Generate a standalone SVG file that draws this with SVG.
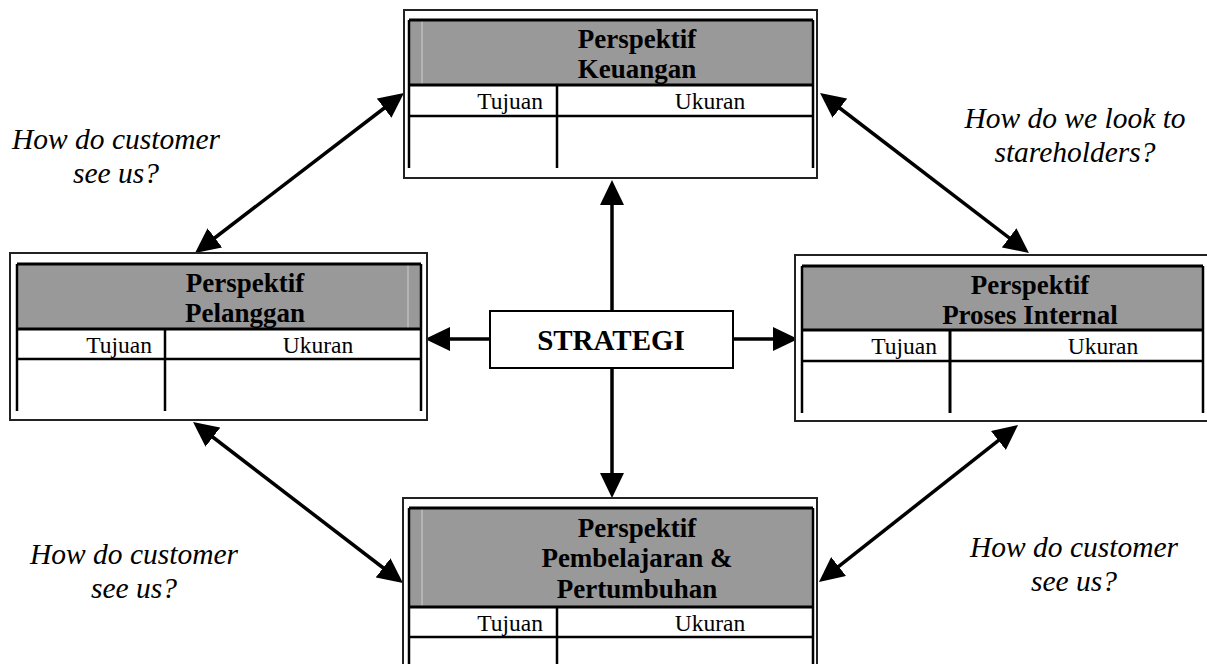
<svg xmlns="http://www.w3.org/2000/svg" width="1207" height="664" viewBox="0 0 1207 664">
<defs>
<style>
.outer{fill:#fff;stroke:#222;stroke-width:2}
.hdr{fill:#999;stroke:none}
.tl{stroke:#000;stroke-width:2.5;fill:none}
.thk{stroke:#000;stroke-width:3;fill:none}
.faint{stroke:#cfcfcf;stroke-width:1}
.h{font-family:"Liberation Serif","Times New Roman",serif;font-weight:bold;font-size:27px;text-anchor:middle;fill:#000}
.c{font-family:"Liberation Serif","Times New Roman",serif;font-size:23.5px;fill:#000}
.lab{font-family:"Liberation Serif","Times New Roman",serif;font-style:italic;font-size:29.5px;text-anchor:middle;fill:#000}
.st{font-family:"Liberation Serif","Times New Roman",serif;font-weight:bold;font-size:29px;text-anchor:middle;fill:#000}
.arr{stroke:#000;stroke-width:3.5;fill:none}
</style>
<marker id="ah" markerUnits="userSpaceOnUse" markerWidth="25" markerHeight="24" refX="20" refY="12" orient="auto-start-reverse" viewBox="0 0 25 24">
<path d="M0,0 L25,12 L0,24 Z" fill="#000"/>
</marker>
</defs>
<rect width="1207" height="664" fill="#fff"/>

<g id="connectors">
<line class="arr" x1="199" y1="250" x2="400" y2="96" marker-start="url(#ah)" marker-end="url(#ah)"/>
<line class="arr" x1="824" y1="96" x2="1025" y2="250" marker-start="url(#ah)" marker-end="url(#ah)"/>
<line class="arr" x1="197" y1="425" x2="399" y2="580" marker-start="url(#ah)" marker-end="url(#ah)"/>
<line class="arr" x1="1014.1" y1="428.1" x2="822.9" y2="578.9" marker-start="url(#ah)" marker-end="url(#ah)"/>
<line class="arr" x1="612" y1="311" x2="612" y2="185" marker-end="url(#ah)"/>
<line class="arr" x1="612" y1="368" x2="612" y2="493" marker-end="url(#ah)"/>
<line class="arr" x1="490" y1="339" x2="430" y2="339" marker-end="url(#ah)"/>
<line class="arr" x1="733" y1="339" x2="793" y2="339" marker-end="url(#ah)"/>
</g>

<g id="keuangan">
<rect class="outer" x="404" y="10" width="413" height="168"/>
<rect class="hdr" x="409" y="20" width="404" height="65"/>
<line class="faint" x1="422" y1="21" x2="422" y2="84"/>
<line class="thk" x1="409" y1="20" x2="813" y2="20"/>
<line class="thk" x1="409" y1="85" x2="813" y2="85"/>
<line class="tl" x1="409" y1="116" x2="813" y2="116"/>
<line class="tl" x1="409" y1="20" x2="409" y2="168"/>
<line class="tl" x1="813" y1="20" x2="813" y2="168"/>
<line class="tl" x1="557" y1="85" x2="557" y2="168"/>
<text class="h" x="637" y="48">Perspektif</text>
<text class="h" x="637" y="78">Keuangan</text>
<text class="c" x="543" y="109" text-anchor="end">Tujuan</text>
<text class="c" x="710" y="109" text-anchor="middle">Ukuran</text>
</g>

<g id="pelanggan">
<rect class="outer" x="10" y="253" width="417" height="167"/>
<rect class="hdr" x="17" y="264" width="404" height="65"/>
<line class="faint" x1="408" y1="265" x2="408" y2="328"/>
<line class="thk" x1="17" y1="264" x2="421" y2="264"/>
<line class="thk" x1="17" y1="329" x2="421" y2="329"/>
<line class="tl" x1="17" y1="359" x2="421" y2="359"/>
<line class="tl" x1="17" y1="264" x2="17" y2="411"/>
<line class="tl" x1="421" y1="264" x2="421" y2="411"/>
<line class="tl" x1="165" y1="329" x2="165" y2="411"/>
<text class="h" x="245" y="292">Perspektif</text>
<text class="h" x="245" y="322">Pelanggan</text>
<text class="c" x="152" y="353" text-anchor="end">Tujuan</text>
<text class="c" x="318" y="353" text-anchor="middle">Ukuran</text>
</g>

<g id="proses-internal">
<rect class="outer" x="795" y="255" width="420" height="166"/>
<rect class="hdr" x="802" y="266" width="401" height="64"/>
<line class="thk" x1="802" y1="266" x2="1203" y2="266"/>
<line class="thk" x1="802" y1="330" x2="1203" y2="330"/>
<line class="tl" x1="802" y1="361" x2="1203" y2="361"/>
<line class="tl" x1="802" y1="266" x2="802" y2="413"/>
<line class="tl" x1="1203" y1="266" x2="1203" y2="413"/>
<line class="thk" x1="950" y1="330" x2="950" y2="413"/>
<text class="h" x="1030" y="294">Perspektif</text>
<text class="h" x="1030" y="324">Proses Internal</text>
<text class="c" x="937" y="354" text-anchor="end">Tujuan</text>
<text class="c" x="1103" y="354" text-anchor="middle">Ukuran</text>
</g>

<g id="pembelajaran">
<rect class="outer" x="403" y="498" width="414" height="180"/>
<rect class="hdr" x="409" y="508" width="404" height="99"/>
<line class="faint" x1="422" y1="509" x2="422" y2="606"/>
<line class="thk" x1="409" y1="508" x2="813" y2="508"/>
<line class="thk" x1="409" y1="607" x2="813" y2="607"/>
<line class="tl" x1="409" y1="637" x2="813" y2="637"/>
<line class="tl" x1="409" y1="508" x2="409" y2="664"/>
<line class="tl" x1="813" y1="508" x2="813" y2="664"/>
<line class="tl" x1="557" y1="607" x2="557" y2="664"/>
<text class="h" x="637" y="537">Perspektif</text>
<text class="h" x="637" y="567">Pembelajaran &amp;</text>
<text class="h" x="637" y="598">Pertumbuhan</text>
<text class="c" x="543" y="631" text-anchor="end">Tujuan</text>
<text class="c" x="710" y="631" text-anchor="middle">Ukuran</text>
</g>

<g id="strategi">
<rect x="490" y="311" width="243" height="57" fill="#fff" stroke="#000" stroke-width="2"/>
<text class="st" x="611" y="350">STRATEGI</text>
</g>

<g id="labels">
<text class="lab" x="116" y="149">How do customer</text>
<text class="lab" x="116" y="183">see us?</text>
<text class="lab" x="1075" y="128">How do we look to</text>
<text class="lab" x="1075" y="162">stareholders?</text>
<text class="lab" x="134" y="564">How do customer</text>
<text class="lab" x="134" y="598">see us?</text>
<text class="lab" x="1074" y="557">How do customer</text>
<text class="lab" x="1074" y="591">see us?</text>
</g>
</svg>
